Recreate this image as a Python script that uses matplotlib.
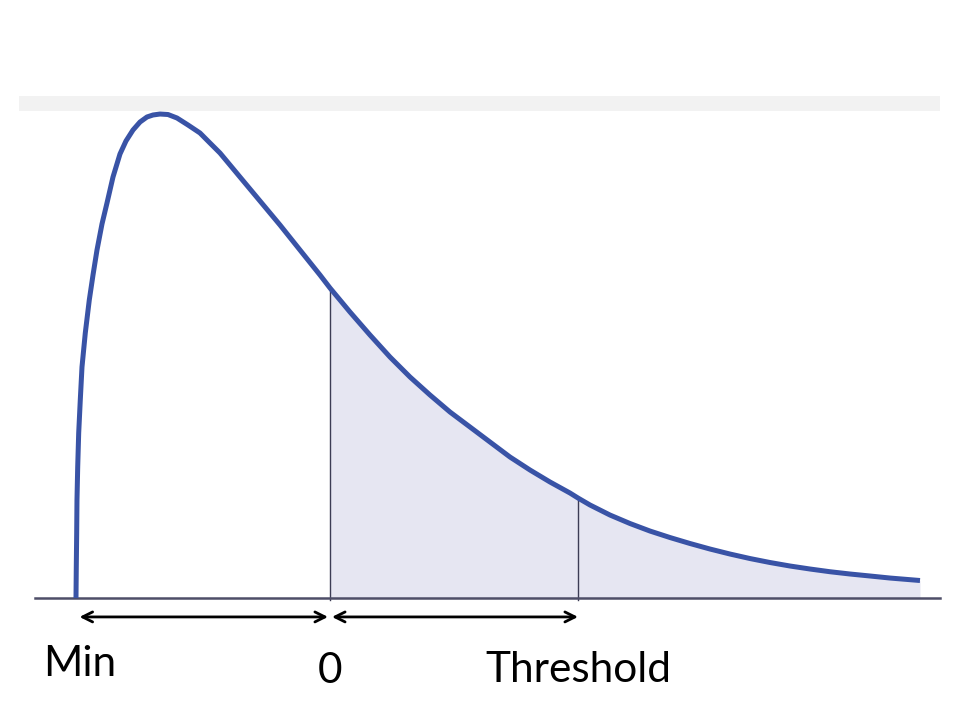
import numpy as np
import matplotlib
matplotlib.use('Agg')
import matplotlib.pyplot as plt

# Curve (x: Min=-1, 0, Threshold=1; y: peak ~ 1)
curve_x = [-1.0242, -1.0230, -1.0214, -1.0202, -1.0173, -1.0133, -1.0069, -1.0000,
           -0.9867, -0.9706, -0.9556, -0.9395, -0.9194, -0.8992, -0.8750, -0.8468,
           -0.8226, -0.7944, -0.7661, -0.7379, -0.7137, -0.6855, -0.6532, -0.6169,
           -0.5726, -0.5242, -0.4839, -0.4435, -0.4032, -0.3629, -0.2823, -0.2016,
           -0.1210, -0.0403, 0.0000, 0.0806, 0.1613, 0.2419, 0.3226, 0.4032,
           0.4839, 0.5645, 0.6452, 0.7258, 0.8065, 0.8871, 0.9677, 1.0000,
           1.0484, 1.1290, 1.2097, 1.2903, 1.3710, 1.4516, 1.5323, 1.6129,
           1.6935, 1.7742, 1.8548, 1.9355, 2.0161, 2.0968, 2.1774, 2.2581, 2.3790]
curve_y = [0.0000, 0.0639, 0.1340, 0.2021, 0.2701, 0.3402, 0.4082, 0.4763,
           0.5464, 0.6144, 0.6660, 0.7175, 0.7711, 0.8144, 0.8680, 0.9155,
           0.9423, 0.9649, 0.9814, 0.9918, 0.9959, 0.9979, 0.9969, 0.9897,
           0.9753, 0.9588, 0.9381, 0.9175, 0.8928, 0.8680, 0.8186, 0.7691,
           0.7175, 0.6660, 0.6392, 0.5897, 0.5423, 0.4969, 0.4557, 0.4186,
           0.3835, 0.3526, 0.3216, 0.2907, 0.2639, 0.2392, 0.2165, 0.2062,
           0.1918, 0.1711, 0.1536, 0.1381, 0.1247, 0.1124, 0.1010, 0.0907,
           0.0814, 0.0732, 0.0660, 0.0598, 0.0542, 0.0495, 0.0454, 0.0412, 0.0361]

marker_names = ['Min', '0', 'Threshold']
marker_x = [-1.01, 0.0, 1.0]

plt.rcParams['font.family'] = ['Lato', 'DejaVu Sans']

x = np.array(curve_x)
y = np.array(curve_y)

fig = plt.figure(figsize=(9.6, 7.2), dpi=100)
ax = fig.add_axes([0, 0, 1, 1])
ax.set_xlim(-1.3306, 2.5403)
ax.set_ylim(-0.2515, 1.2330)
ax.axis('off')

# light grey band at the top
ax.axhspan(1.004, 1.035, xmin=0.0198, xmax=0.979, color='#f2f2f2', lw=0, zorder=0)

# shaded tail from 0 onwards
right = x >= 0
ax.fill_between(x[right], 0, y[right], color='#e6e6f2', lw=0, zorder=1)

# vertical lines at 0 and threshold
for mx in marker_x[1:]:
    ax.plot([mx, mx], [-0.004, np.interp(mx, x, y)], color='#3c3c55', lw=1.0, zorder=2)

# baseline
ax.plot([-1.19, 2.46], [0, 0], color='#4e4e68', lw=1.8, zorder=3)

# the curve
ax.plot(x, y, color='#3953a6', lw=3.6, solid_capstyle='butt',
        solid_joinstyle='round', zorder=4)

# arrows below the axis
arrow_y = -0.039
for a, b in [(marker_x[0], marker_x[1] - 0.008), (marker_x[1] + 0.008, marker_x[2])]:
    ax.annotate('', xy=(b, arrow_y), xytext=(a, arrow_y),
                arrowprops=dict(arrowstyle='<->', color='black', lw=2.0,
                                mutation_scale=18, shrinkA=0, shrinkB=0))

# labels (baseline-aligned)
label_y = [-0.1608, -0.1753, -0.1732]
for name, mx, ly in zip(marker_names, marker_x, label_y):
    ax.text(mx, ly, name, ha='center', va='baseline', fontsize=30.5, color='black')

fig.savefig('out.png', dpi=100)
